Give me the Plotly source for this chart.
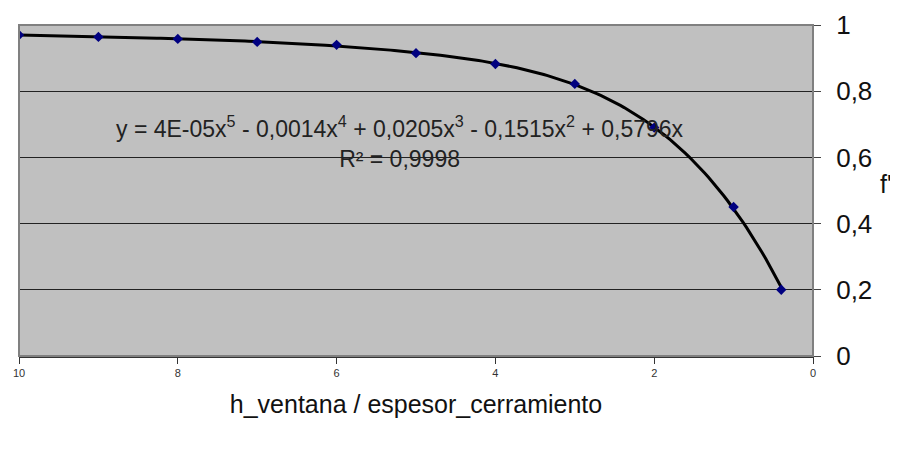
import plotly.graph_objects as go
import numpy as np

ratio = [10, 9, 8, 7, 6, 5, 4, 3, 2, 1, 0.4]
f_val = [0.97, 0.964, 0.958, 0.949, 0.94, 0.915, 0.882, 0.822, 0.69, 0.45, 0.2]
y_ticks = [0, 0.2, 0.4, 0.6, 0.8, 1]
y_ticklabels = ["0", "0,2", "0,4", "0,6", "0,8", "1"]
x_ticks = [0, 2, 4, 6, 8, 10]
eq_text = "y = 4E-05x<sup>5</sup> - 0,0014x<sup>4</sup> + 0,0205x<sup>3</sup> - 0,1515x<sup>2</sup> + 0,5796x<br>R² = 0,9998"

# trendline: 5th-degree polynomial through origin fitted to the points
xa = np.array(ratio)
A = np.vstack([xa**k for k in range(5, 0, -1)]).T
coef, *_ = np.linalg.lstsq(A, np.array(f_val), rcond=None)
xs = np.linspace(0.4, 10, 200)
ys = sum(c * xs**k for c, k in zip(coef, range(5, 0, -1)))

fig = go.Figure()
fig.add_trace(go.Scatter(x=xs, y=ys, mode="lines",
                         line=dict(color="black", width=3), hoverinfo="skip"))
fig.add_trace(go.Scatter(x=ratio, y=f_val, mode="markers",
                         marker=dict(symbol="diamond", size=8, color="#000080")))

font_main = "Liberation Sans, Arial"
fig.add_annotation(x=0.48, y=0.646, xref="paper", yref="paper", text=eq_text,
                   showarrow=False, align="center", xanchor="center", yanchor="middle",
                   font=dict(family=font_main, size=23, color="#222"))
fig.add_annotation(x=1.092, y=0.52, xref="paper", yref="paper", text="f'",
                   showarrow=False, xanchor="center", yanchor="middle",
                   font=dict(family=font_main, size=25, color="#111"))

fig.update_layout(
    width=898, height=457,
    margin=dict(l=11, r=93, t=17, b=109, autoexpand=False),
    paper_bgcolor="white", plot_bgcolor="#c0c0c0",
    showlegend=False,
    xaxis=dict(range=[10, 0], tickvals=x_ticks, ticks="outside", ticklen=6, automargin=False,
               tickcolor="#333", tickfont=dict(family=font_main, size=11, color="#333"),
               showgrid=False, zeroline=False, showline=True, linecolor="#333", linewidth=2,
               title=dict(text="h_ventana / espesor_cerramiento",
                          font=dict(family=font_main, size=25, color="#111"), standoff=17)),
    yaxis=dict(range=[0, 1], tickvals=y_ticks, ticktext=y_ticklabels, side="right",
               automargin=False,
               ticks="outside", ticklen=7, tickcolor="#444", ticklabelstandoff=10,
               tickfont=dict(family=font_main, size=26, color="#111"),
               showgrid=True, gridcolor="#222", gridwidth=1, zeroline=False,
               showline=True, linecolor="#666", linewidth=1),
)
fig.add_shape(type="rect", xref="paper", yref="paper", x0=0, y0=0, x1=1, y1=1,
              line=dict(color="#808080", width=2), layer="above")
fig.write_html("out.html")
